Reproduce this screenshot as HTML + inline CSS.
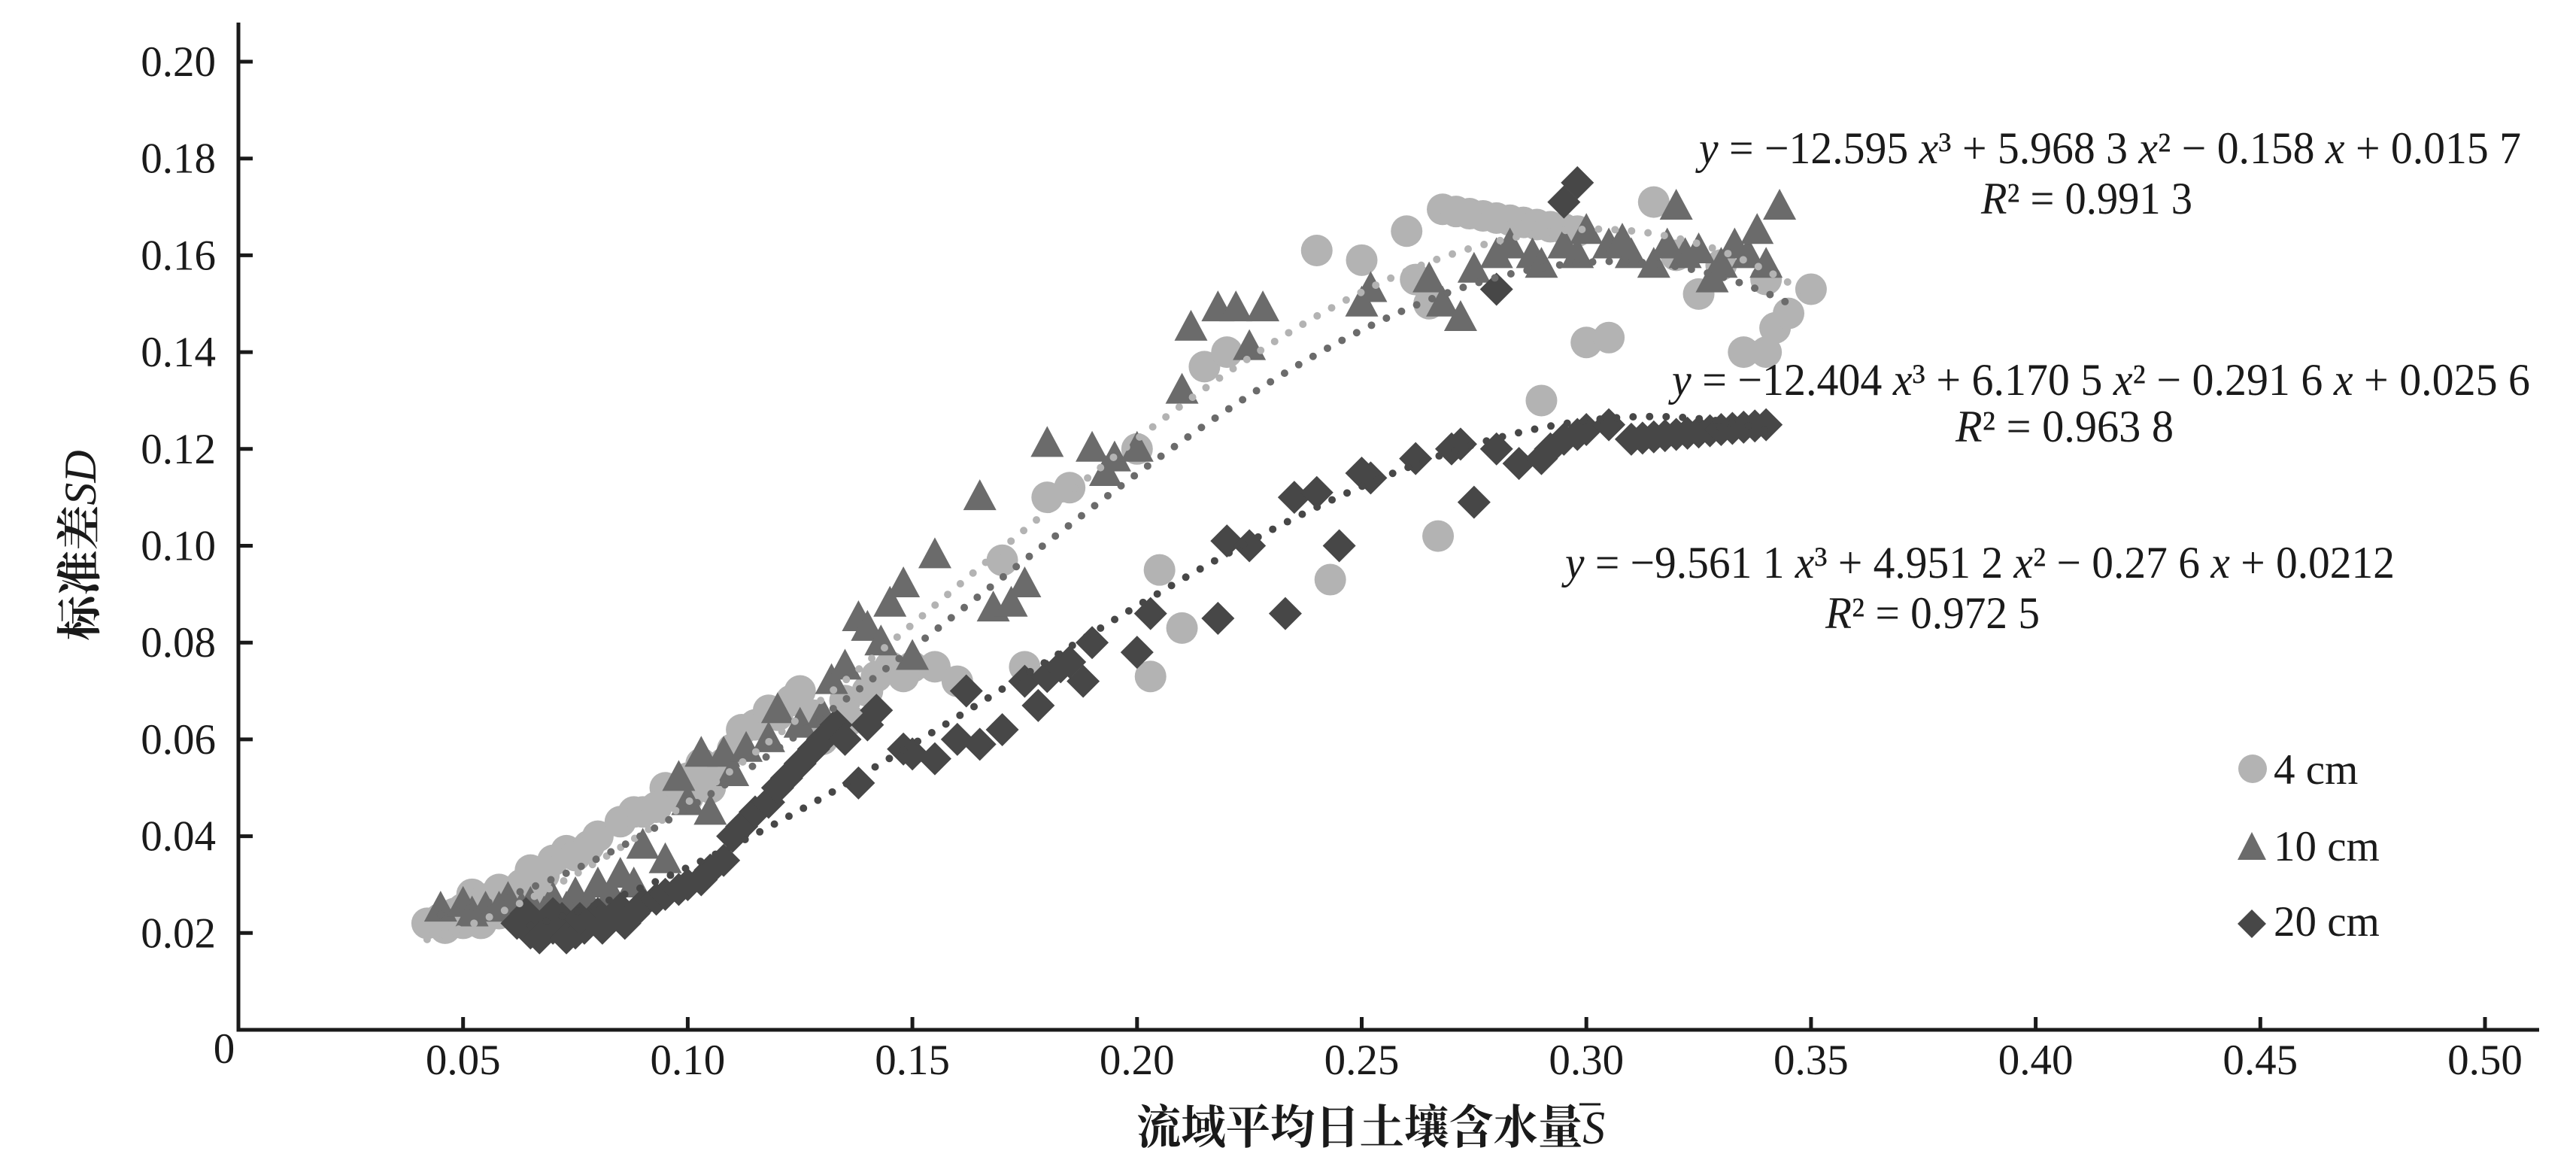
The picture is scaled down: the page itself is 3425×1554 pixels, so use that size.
<!DOCTYPE html>
<html><head><meta charset="utf-8"><style>
html,body{margin:0;padding:0;background:#fff;}
svg{display:block;}
text{font-family:"Liberation Serif","Noto Serif CJK SC",serif;fill:#1a1a1a;}
</style></head><body>
<svg id="s" width="3425" height="1554" viewBox="0 0 3425 1554" xmlns="http://www.w3.org/2000/svg">
<g id="pts"></g>
<g id="lines" fill="none" stroke-linecap="round"></g>
<g stroke="#1a1a1a" stroke-width="5" fill="none">
<path d="M317 30 V1369 H3376"/>
</g>
<g id="ticks" stroke="#1a1a1a" stroke-width="5"></g>
<g id="labels" font-size="57"></g>
<text x="298" y="1413" font-size="57" text-anchor="middle">0</text>
<text transform="translate(127,725) rotate(-90)" font-size="60" font-weight="bold" text-anchor="middle">标准差<tspan font-style="italic" font-weight="normal">SD</tspan></text>
<text x="1511" y="1520" font-size="62" font-weight="bold" textLength="623" lengthAdjust="spacingAndGlyphs">流域平均日土壤含水量<tspan font-style="italic" font-weight="normal">S</tspan></text>
<line x1="2100" y1="1468" x2="2128" y2="1468" stroke="#1a1a1a" stroke-width="3"/>
<g font-size="60">
<text x="2259" y="217" textLength="1093" lengthAdjust="spacingAndGlyphs"><tspan font-style="italic">y</tspan> = −12.595 <tspan font-style="italic">x</tspan>³ + 5.968 3 <tspan font-style="italic">x</tspan>² − 0.158 <tspan font-style="italic">x</tspan> + 0.015 7</text>
<text x="2634" y="284" textLength="281" lengthAdjust="spacingAndGlyphs"><tspan font-style="italic">R</tspan>² = 0.991 3</text>
<text x="2223" y="525" textLength="1141" lengthAdjust="spacingAndGlyphs"><tspan font-style="italic">y</tspan> = −12.404 <tspan font-style="italic">x</tspan>³ + 6.170 5 <tspan font-style="italic">x</tspan>² − 0.291 6 <tspan font-style="italic">x</tspan> + 0.025 6</text>
<text x="2600" y="587" textLength="290" lengthAdjust="spacingAndGlyphs"><tspan font-style="italic">R</tspan>² = 0.963 8</text>
<text x="2081" y="768" textLength="1103" lengthAdjust="spacingAndGlyphs"><tspan font-style="italic">y</tspan> = −9.561 1 <tspan font-style="italic">x</tspan>³ + 4.951 2 <tspan font-style="italic">x</tspan>² − 0.27 6 <tspan font-style="italic">x</tspan> + 0.0212</text>
<text x="2427" y="835" textLength="285" lengthAdjust="spacingAndGlyphs"><tspan font-style="italic">R</tspan>² = 0.972 5</text>
</g>
<circle cx="2995" cy="1022" r="19" fill="#b3b3b3"/>
<text x="3023" y="1042" font-size="57">4 cm</text>
<polygon points="2994,1106 3013,1143 2975,1143" fill="#6b6b6b"/>
<text x="3023" y="1144" font-size="57">10 cm</text>
<polygon points="2994,1209 3013,1228 2994,1247 2975,1228" fill="#474747"/>
<text x="3023" y="1244" font-size="57">20 cm</text>
</svg>
<script>
var NS="http://www.w3.org/2000/svg";
function X(v){return 317+v*5974;}
function Y(v){return 1369-v*6435;}
function el(p,t,a){var e=document.createElementNS(NS,t);for(var k in a)e.setAttribute(k,a[k]);p.appendChild(e);return e;}
var tk=document.getElementById('ticks'),lb=document.getElementById('labels');
for(var i=1;i<=10;i++){var v=i*0.02,y=Y(v);el(tk,'line',{x1:317,y1:y,x2:336,y2:y});
var t=el(lb,'text',{x:287,y:y+19,'text-anchor':'end'});t.textContent=v.toFixed(2);}
for(var i=1;i<=10;i++){var v=i*0.05,x=X(v);el(tk,'line',{x1:x,y1:1369,x2:x,y2:1352});
var t=el(lb,'text',{x:x,y:1428,'text-anchor':'middle'});t.textContent=v.toFixed(2);}
var c4=[[0.042,0.022],[0.045,0.023],[0.048,0.024],[0.05,0.025],[0.052,0.028],[0.055,0.027],[0.058,0.029],[0.06,0.028],[0.063,0.03],[0.065,0.033],[0.068,0.032],[0.07,0.035],[0.073,0.037],[0.075,0.036],[0.078,0.038],[0.08,0.04],[0.085,0.043],[0.088,0.045],[0.09,0.045],[0.095,0.05],[0.098,0.048],[0.1,0.052],[0.103,0.055],[0.105,0.05],[0.108,0.055],[0.11,0.058],[0.112,0.062],[0.115,0.063],[0.118,0.066],[0.12,0.065],[0.123,0.068],[0.125,0.07],[0.128,0.065],[0.13,0.06],[0.133,0.062],[0.135,0.068],[0.14,0.07],[0.145,0.075],[0.15,0.075],[0.155,0.075],[0.16,0.072],[0.17,0.097],[0.175,0.075],[0.18,0.11],[0.185,0.112],[0.2,0.12],[0.205,0.095],[0.203,0.073],[0.21,0.083],[0.215,0.137],[0.22,0.14],[0.24,0.161],[0.243,0.093],[0.25,0.159],[0.26,0.165],[0.262,0.155],[0.265,0.15],[0.267,0.102],[0.29,0.13],[0.3,0.142],[0.305,0.143],[0.315,0.171],[0.32,0.16],[0.325,0.152],[0.33,0.158],[0.335,0.14],[0.34,0.14],[0.342,0.145],[0.345,0.148],[0.35,0.153],[0.34,0.155],[0.046,0.021],[0.05,0.022],[0.054,0.022],[0.058,0.024],[0.062,0.026],[0.066,0.028],[0.093,0.046],[0.1,0.048],[0.106,0.053],[0.136,0.064],[0.142,0.073],[0.148,0.073]];
for(var x=0.268;x<=0.3;x+=0.003)c4.push([x,0.1695-(x-0.268)*0.15]);
var c10=[[0.045,0.025],[0.05,0.026],[0.055,0.025],[0.06,0.027],[0.065,0.026],[0.07,0.027],[0.075,0.028],[0.08,0.03],[0.085,0.032],[0.09,0.038],[0.095,0.035],[0.098,0.052],[0.1,0.047],[0.103,0.057],[0.105,0.045],[0.108,0.057],[0.11,0.053],[0.113,0.058],[0.118,0.06],[0.12,0.066],[0.125,0.063],[0.13,0.065],[0.132,0.072],[0.135,0.075],[0.138,0.085],[0.14,0.083],[0.143,0.08],[0.145,0.088],[0.148,0.092],[0.15,0.077],[0.155,0.098],[0.165,0.11],[0.168,0.087],[0.172,0.088],[0.175,0.092],[0.18,0.121],[0.19,0.12],[0.193,0.115],[0.195,0.118],[0.2,0.12],[0.21,0.132],[0.212,0.145],[0.218,0.149],[0.222,0.149],[0.225,0.141],[0.228,0.149],[0.25,0.15],[0.252,0.153],[0.265,0.155],[0.268,0.15],[0.272,0.147],[0.275,0.157],[0.28,0.16],[0.283,0.162],[0.288,0.16],[0.29,0.158],[0.295,0.162],[0.3,0.165],[0.305,0.162],[0.31,0.16],[0.315,0.158],[0.32,0.17],[0.322,0.16],[0.328,0.155],[0.33,0.158],[0.333,0.162],[0.336,0.16],[0.34,0.158],[0.343,0.17],[0.338,0.165],[0.298,0.16],[0.308,0.163],[0.318,0.162],[0.325,0.161],[0.052,0.024],[0.058,0.025],[0.063,0.025],[0.068,0.024],[0.073,0.025],[0.078,0.026],[0.083,0.028],[0.088,0.03]];
var c20=[[0.065,0.02],[0.068,0.022],[0.07,0.021],[0.072,0.023],[0.075,0.02],[0.078,0.022],[0.08,0.024],[0.083,0.023],[0.085,0.025],[0.088,0.024],[0.09,0.026],[0.093,0.027],[0.095,0.028],[0.098,0.029],[0.1,0.03],[0.103,0.031],[0.105,0.033],[0.108,0.035],[0.11,0.04],[0.112,0.042],[0.115,0.045],[0.118,0.047],[0.12,0.05],[0.122,0.052],[0.125,0.055],[0.128,0.058],[0.13,0.06],[0.133,0.063],[0.135,0.06],[0.138,0.051],[0.14,0.063],[0.142,0.066],[0.148,0.058],[0.15,0.057],[0.155,0.056],[0.16,0.06],[0.162,0.07],[0.165,0.059],[0.17,0.062],[0.175,0.072],[0.178,0.067],[0.18,0.073],[0.183,0.075],[0.185,0.076],[0.188,0.072],[0.19,0.08],[0.2,0.078],[0.203,0.086],[0.218,0.085],[0.22,0.101],[0.225,0.1],[0.233,0.086],[0.235,0.11],[0.24,0.111],[0.245,0.1],[0.25,0.115],[0.252,0.114],[0.262,0.118],[0.27,0.12],[0.272,0.121],[0.275,0.109],[0.28,0.12],[0.285,0.117],[0.29,0.118],[0.292,0.12],[0.295,0.122],[0.298,0.123],[0.3,0.124],[0.305,0.125],[0.28,0.153],[0.295,0.171],[0.298,0.175],[0.062,0.022],[0.067,0.019],[0.073,0.019],[0.077,0.021],[0.064,0.024],[0.07,0.024],[0.076,0.023],[0.081,0.021],[0.086,0.022]];
for(var x=0.31;x<=0.341;x+=0.0025)c20.push([x,0.122+(x-0.31)*0.1]);
var P=document.getElementById('pts');
c4.forEach(function(p){el(P,'circle',{cx:X(p[0]),cy:Y(p[1]),r:21,fill:'#b3b3b3'});});
c10.forEach(function(p){var x=X(p[0]),y=Y(p[1]);el(P,'polygon',{points:x+','+(y-24)+' '+(x+22)+','+(y+17)+' '+(x-22)+','+(y+17),fill:'#6b6b6b'});});
c20.forEach(function(p){var x=X(p[0]),y=Y(p[1]);el(P,'polygon',{points:x+','+(y-22)+' '+(x+22)+','+y+' '+x+','+(y+22)+' '+(x-22)+','+y,fill:'#474747'});});
var L=document.getElementById('lines');
function curve(a,b,c,d,x0,x1,col){var s='';for(var x=x0;x<=x1+1e-9;x+=0.002){var y=a*x*x*x+b*x*x+c*x+d;s+=(s?'L':'M')+X(x).toFixed(1)+' '+Y(y).toFixed(1);}
el(L,'path',{d:s,stroke:col,'stroke-width':10,'stroke-dasharray':'0 22'});}
curve(-12.595,5.9683,-0.158,0.0157,0.042,0.35,'#b3b3b3');
curve(-12.404,6.1705,-0.2916,0.0256,0.045,0.345,'#6b6b6b');
curve(-9.5611,4.9512,-0.276,0.0212,0.065,0.342,'#474747');
</script>
</body></html>
